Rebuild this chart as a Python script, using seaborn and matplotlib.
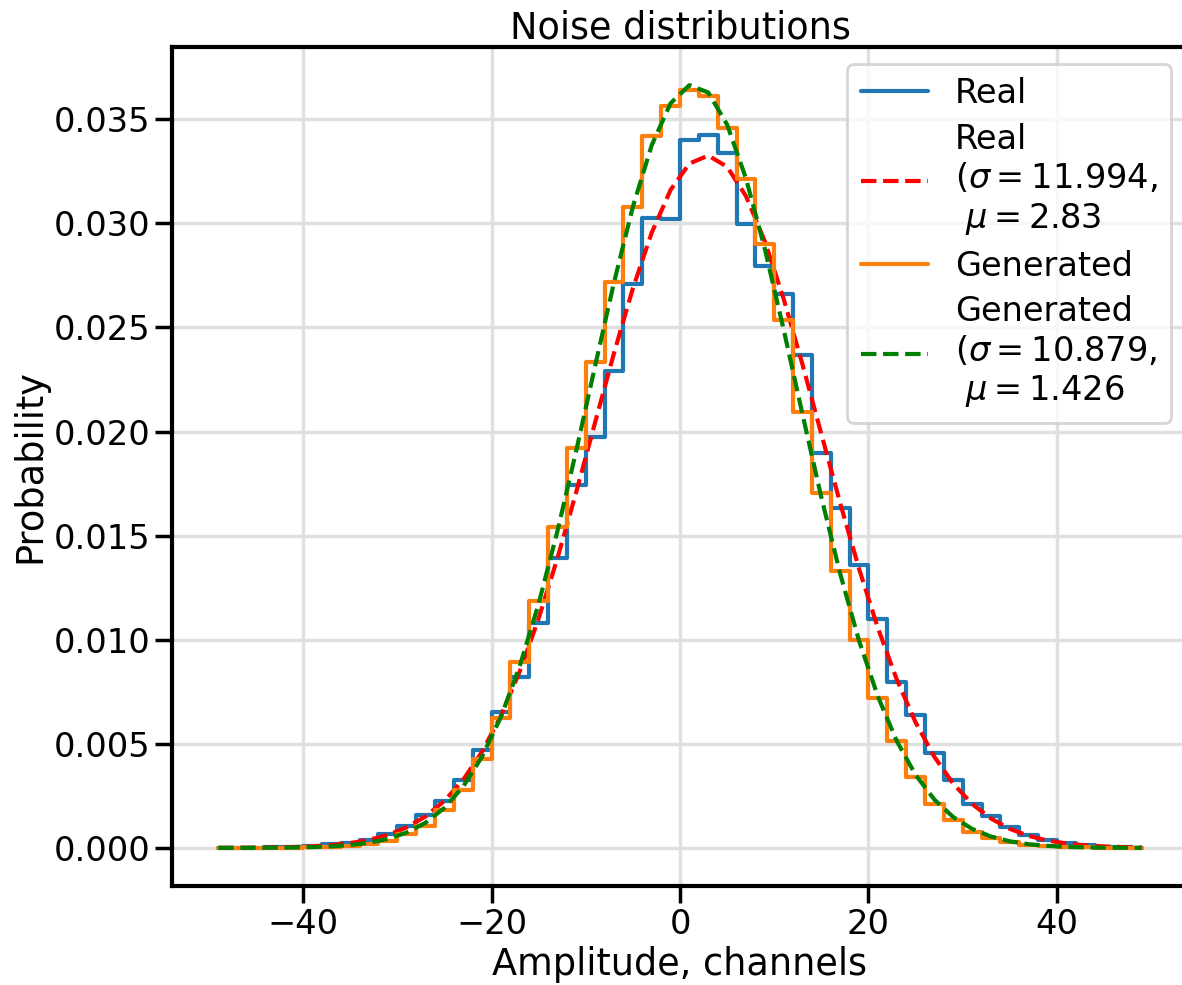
import numpy as np
import matplotlib
matplotlib.use("Agg")
import matplotlib.pyplot as plt
import seaborn as sns

# bin centres of the amplitude histograms (bin width 2)
centers = np.arange(-49, 50, 2)

# normalised histogram of real noise
real_prob = [
    0.0, 0.0, 0.00001, 0.00003, 0.00005, 0.00009, 0.00017, 0.00025, 0.00037, 0.00067,
    0.00105, 0.00158, 0.00226, 0.00324, 0.00470, 0.00652, 0.00819, 0.01082, 0.01393, 0.01744,
    0.01974, 0.02291, 0.02709, 0.03028, 0.03020, 0.03403, 0.03427, 0.03339, 0.02999, 0.02797,
    0.02661, 0.02366, 0.01896, 0.01633, 0.01357, 0.01098, 0.00798, 0.00637, 0.00458, 0.00326,
    0.00211, 0.00154, 0.00101, 0.00061, 0.00037, 0.00022, 0.00012, 0.00006, 0.00003, 0.00001,
]

# normalised histogram of generated noise
gen_prob = [
    0.0, 0.0, 0.0, 0.00001, 0.00001, 0.00002, 0.00004, 0.00008, 0.00017, 0.00035,
    0.00065, 0.00106, 0.00180, 0.00279, 0.00428, 0.00624, 0.00891, 0.01186, 0.01540, 0.01923,
    0.02334, 0.02720, 0.03079, 0.03422, 0.03562, 0.03642, 0.03610, 0.03459, 0.03212, 0.02900,
    0.02534, 0.02095, 0.01704, 0.01329, 0.00998, 0.00720, 0.00513, 0.00339, 0.00213, 0.00133,
    0.00077, 0.00045, 0.00026, 0.00013, 0.00007, 0.00004, 0.00002, 0.00001, 0.0, 0.0,
]

# fitted gaussian parameters (from legend)
real_sigma, real_mu = 11.994, 2.83
gen_sigma, gen_mu = 10.879, 1.426


def gauss(x, mu, sigma):
    return np.exp(-0.5 * ((x - mu) / sigma) ** 2) / (sigma * np.sqrt(2 * np.pi))


sns.set_context("poster", font_scale=1.1)
sns.set_style("ticks")
plt.rcParams.update({
    "text.color": "black",
    "axes.labelcolor": "black",
    "xtick.color": "black",
    "ytick.color": "black",
})

fig = plt.figure(figsize=(11.82, 9.85), dpi=100)
ax = fig.add_axes([172 / 1182, 1 - 886 / 985, (1188 - 172) / 1182, (886 - 47) / 985])
ax.grid(True, color="0.88", lw=2.5)
ax.set_axisbelow(True)

sns.lineplot(x=centers, y=real_prob, drawstyle="steps-mid", color="C0", lw=3,
             label="Real", ax=ax)
sns.lineplot(x=centers, y=gauss(centers, real_mu, real_sigma), color="r", lw=3,
             linestyle="--", label="Real\n($\\sigma=11.994$,\n $\\mu=2.83$", ax=ax)
sns.lineplot(x=centers, y=gen_prob, drawstyle="steps-mid", color="C1", lw=3,
             label="Generated", ax=ax)
sns.lineplot(x=centers, y=gauss(centers, gen_mu, gen_sigma), color="g", lw=3,
             linestyle="--", label="Generated\n($\\sigma=10.879$,\n $\\mu=1.426$", ax=ax)

for s in ax.spines.values():
    s.set_color("black")
    s.set_linewidth(3)

ax.set_title("Noise distributions")
ax.set_xlabel("Amplitude, channels")
ax.set_ylabel("Probability")
ax.legend(loc="upper right", labelspacing=0.38)

fig.savefig("out.png", dpi=100)
